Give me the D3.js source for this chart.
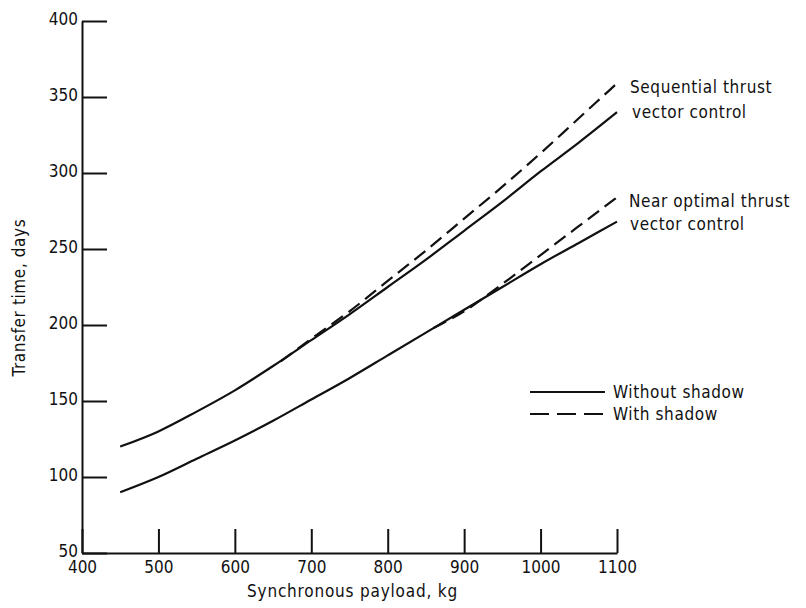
<!DOCTYPE html>
<html>
<head>
<meta charset="utf-8">
<script src="https://cdn.jsdelivr.net/npm/d3@7"></script>
<style>
  body { margin: 0; background: #fff; }
  svg text { font-family: "DejaVu Sans Condensed", "Liberation Sans Narrow", sans-serif; fill: #111; }
</style>
</head>
<body>
<svg id="chart" width="806" height="608"></svg>
<script>
// transfer time vs synchronous payload
const payload = [450, 500, 550, 600, 650, 700, 750, 800, 850, 900, 950, 1000, 1050, 1100];
const seqSolid = [120, 130, 143, 157, 173, 190, 207, 225, 243, 262, 281, 301, 320, 340];
const nearSolid = [90, 100, 112, 124, 137, 151, 165, 180, 195, 210, 225, 240, 254, 268];

const seqDashX = [660, 700, 750, 800, 850, 900, 950, 1000, 1050, 1100];
const seqDashY = [176, 191, 209, 229, 249, 270, 291, 313, 336, 359];
const nearDashX = [860, 900, 950, 1000, 1050, 1100];
const nearDashY = [198, 209, 227, 246, 265, 284];

const xTicks = [400, 500, 600, 700, 800, 900, 1000, 1100];
const yTicks = [50, 100, 150, 200, 250, 300, 350, 400];

const svg = d3.select('#chart');
const margin = { left: 82, right: 189, top: 21, bottom: 55 };
const W = 806, H = 608;

const x = d3.scaleLinear().domain([400, 1100]).range([margin.left, W - margin.right]);
const y = d3.scaleLinear().domain([50, 400]).range([H - margin.bottom, margin.top]);

// x axis, ticks pointing up into the plot
const xAxis = svg.append('g')
  .attr('transform', `translate(0,${y(50)})`)
  .call(d3.axisBottom(x).tickValues(xTicks).tickFormat(d3.format('d'))
    .tickSizeInner(-24).tickSizeOuter(0).tickPadding(8));
xAxis.select('.domain').attr('stroke', '#111').attr('stroke-width', 2);
xAxis.selectAll('line').attr('stroke', '#111').attr('stroke-width', 2);
xAxis.selectAll('text').attr('font-size', '17px').attr('fill', '#111');

// y axis, ticks pointing right
const yAxis = svg.append('g')
  .attr('transform', `translate(${x(400)},0)`)
  .call(d3.axisLeft(y).tickValues(yTicks).tickSizeInner(-25).tickSizeOuter(0).tickPadding(4));
yAxis.select('.domain').attr('stroke', '#111').attr('stroke-width', 2);
yAxis.selectAll('line').attr('stroke', '#111').attr('stroke-width', 2);
yAxis.selectAll('text').attr('font-size', '17px').attr('fill', '#111').attr('dy', '0.2em');

// axis titles
svg.append('text')
  .attr('x', (x(400) + x(1100)) / 2 + 3).attr('y', 597)
  .attr('text-anchor', 'middle').attr('font-size', '17px')
  .style('letter-spacing', '0.8px')
  .text('Synchronous payload, kg');

svg.append('text')
  .attr('transform', `translate(25,${y(218)}) rotate(-90)`)
  .attr('text-anchor', 'middle').attr('font-size', '17px')
  .style('letter-spacing', '0.6px')
  .text('Transfer time, days');

const line = d3.line().x(d => x(d[0])).y(d => y(d[1])).curve(d3.curveMonotoneX);

function draw(xs, ys, dashed) {
  svg.append('path')
    .datum(xs.map((v, i) => [v, ys[i]]))
    .attr('d', line)
    .attr('fill', 'none')
    .attr('stroke', '#111')
    .attr('stroke-width', 2.2)
    .attr('stroke-dasharray', dashed ? '14 7' : null);
}

draw(payload, seqSolid, false);
draw(payload, nearSolid, false);
draw(seqDashX, seqDashY, true);
draw(nearDashX, nearDashY, true);

// curve annotations
const notes = [
  { text: 'Sequential thrust', x: 630, y: 93 },
  { text: 'vector control', x: 632, y: 118 },
  { text: 'Near optimal thrust', x: 629, y: 207 },
  { text: 'vector control', x: 630, y: 230 }
];
svg.selectAll('.note').data(notes).enter().append('text')
  .attr('class', 'note')
  .attr('x', d => d.x).attr('y', d => d.y)
  .attr('font-size', '17px')
  .style('letter-spacing', '0.6px')
  .text(d => d.text);

// legend
const legend = [
  { label: 'Without shadow', dash: null, y: 392 },
  { label: 'With shadow', dash: '19 8', y: 414 }
];
const lg = svg.append('g');
lg.selectAll('line').data(legend).enter().append('line')
  .attr('x1', 530).attr('x2', 605)
  .attr('y1', d => d.y).attr('y2', d => d.y)
  .attr('stroke', '#111').attr('stroke-width', 2.2)
  .attr('stroke-dasharray', d => d.dash);
lg.selectAll('text').data(legend).enter().append('text')
  .attr('x', 613).attr('y', d => d.y + 6)
  .attr('font-size', '17px')
  .style('letter-spacing', '0.6px')
  .text(d => d.label);
</script>
</body>
</html>
